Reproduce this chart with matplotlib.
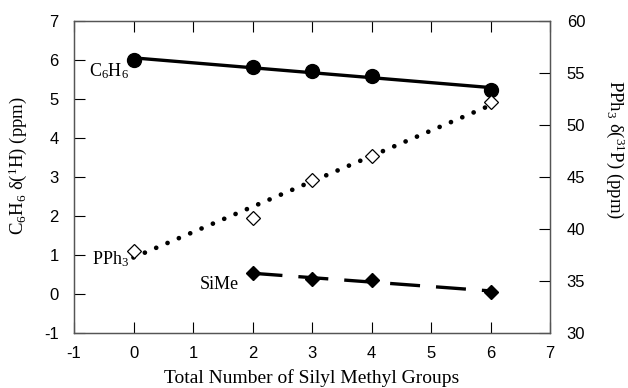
import numpy as np
import matplotlib
matplotlib.use("Agg")
import matplotlib.pyplot as plt

# ---- data ----
silyl_groups_c6h6 = [0, 2, 3, 4, 6]
c6h6_shift = [6.00, 5.83, 5.71, 5.60, 5.23]          # left axis, ppm

silyl_groups_pph3 = [0, 2, 3, 4, 6]
pph3_shift = [37.9, 41.1, 44.7, 47.0, 52.2]           # right axis, ppm

silyl_groups_sime = [2, 3, 4, 6]
sime_shift = [0.53, 0.385, 0.36, 0.06]                # left axis, ppm

x_ticks = [-1, 0, 1, 2, 3, 4, 5, 6, 7]
left_ticks = [-1, 0, 1, 2, 3, 4, 5, 6, 7]
right_ticks = [30, 35, 40, 45, 50, 55, 60]

SERIF = "Liberation Serif"
SANS = "Liberation Sans"
plt.rcParams["mathtext.fontset"] = "custom"
plt.rcParams["mathtext.rm"] = SERIF
plt.rcParams["mathtext.it"] = SERIF + ":italic"
plt.rcParams["mathtext.default"] = "rm"

fig = plt.figure(figsize=(6.28, 3.88), dpi=100)
W, H = 628, 388
L, R, T, B = 74, 550, 21, 333
ax = fig.add_axes([L / W, 1 - B / H, (R - L) / W, (B - T) / H])
ax2 = ax.twinx()

# linear fits as drawn in the reference
def fit_line(xs, ys):
    p = np.polyfit(xs, ys, 1)
    xx = np.array([min(xs), max(xs)], dtype=float)
    return xx, np.polyval(p, xx)

fx, fy = fit_line(silyl_groups_c6h6, c6h6_shift)
ax.plot(fx, fy, color="black", lw=2.4, solid_capstyle="butt", zorder=3)
ax.plot(silyl_groups_c6h6, c6h6_shift, "o", color="black", ms=10, zorder=4)

fx, fy = fit_line(silyl_groups_sime, sime_shift)
ax.plot(fx, fy, color="black", lw=2.4, ls=(0, (9.0, 4.8)), zorder=3)
ax.plot(silyl_groups_sime, sime_shift, "D", color="black", ms=7, zorder=4)

fx, fy = fit_line(silyl_groups_pph3, pph3_shift)
ax2.plot(fx, fy, color="black", lw=3.4, ls=(0, (0.01, 2.6)),
         dash_capstyle="round", zorder=3)
ax2.plot(silyl_groups_pph3, pph3_shift, "D", mfc="white", mec="black",
         mew=0.9, ms=7, zorder=4)

ax.set_xlim(-1, 7)
ax.set_ylim(-1, 7)
ax2.set_ylim(30, 60)
ax.set_xticks(x_ticks)
ax.set_yticks(left_ticks)
ax2.set_yticks(right_ticks)
ax.set_xticklabels([str(v) for v in x_ticks], fontfamily=SANS, fontsize=12)
ax.set_yticklabels([str(v) for v in left_ticks], fontfamily=SANS, fontsize=12)
ax2.set_yticklabels([str(v) for v in right_ticks], fontfamily=SANS, fontsize=12)

ax.tick_params(axis="x", direction="in", length=8, width=0.8, top=True, pad=9)
ax.tick_params(axis="y", direction="in", length=8, width=0.8, pad=11)
ax2.tick_params(axis="y", direction="in", length=8, width=0.8, pad=12)
for a in (ax, ax2):
    for s in a.spines.values():
        s.set_linewidth(0.9)
        s.set_color("#555555")

# series annotations
ax.text(-0.743, 5.59, "C$_{6}$H$_{6}$", fontfamily=SERIF, fontsize=13,
        ha="left", va="baseline")
ax.text(-0.70, 0.76, "PPh$_{3}$", fontfamily=SERIF, fontsize=13,
        ha="left", va="baseline")
ax.text(1.106, 0.12, "SiMe", fontfamily=SERIF, fontsize=13,
        ha="left", va="baseline")

# axis labels
fig.text(18 / W, 1 - 166 / H, "C$_{6}$H$_{6}$ δ($^{1}$H) (ppm)",
         fontfamily=SERIF, fontsize=13.5, rotation=90, ha="center", va="center")
fig.text(615 / W, 1 - 150 / H, "PPh$_{3}$ δ($^{31}$P) (ppm)",
         fontfamily=SERIF, fontsize=13.5, rotation=270, ha="center", va="center")
fig.text(((L + R) / 2) / W, 1 - 378 / H, "Total Number of Silyl Methyl Groups",
         fontfamily=SERIF, fontsize=14, ha="center", va="center")

fig.savefig("out.png", dpi=100)
